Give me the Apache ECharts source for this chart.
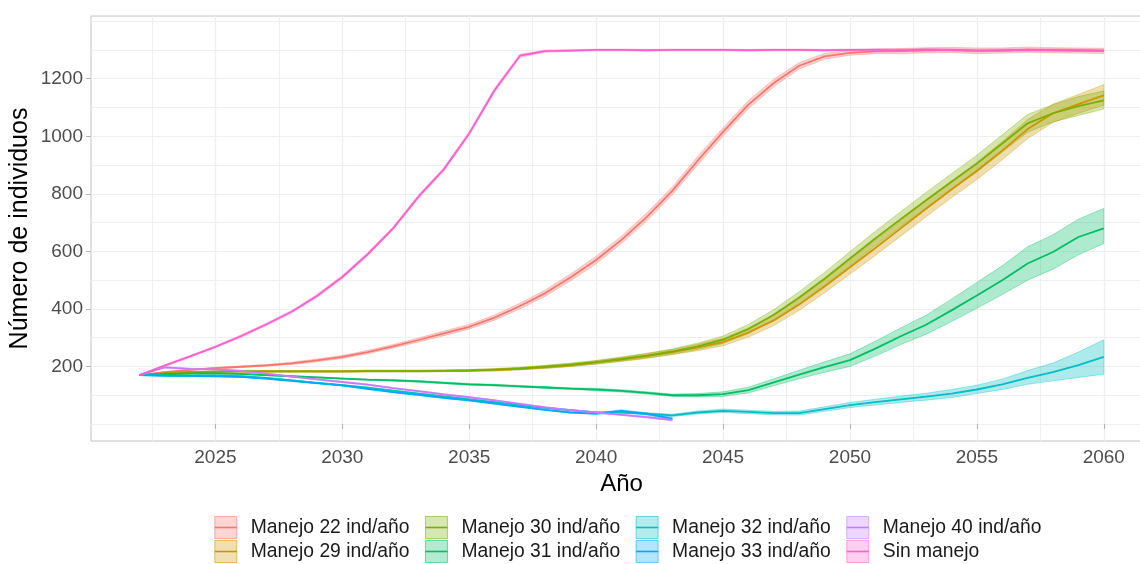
<!DOCTYPE html>
<html>
<head>
<meta charset="utf-8">
<script src="https://cdn.jsdelivr.net/npm/echarts@6/dist/echarts.min.js"></script>
<style>
  html, body { margin: 0; padding: 0; background: #fff; }
  #chart { width: 1140px; height: 564px; }
</style>
</head>
<body>
<div id="chart"></div>
<script>
// años simulados
const years = [2022, 2023, 2024, 2025, 2026, 2027, 2028, 2029, 2030, 2031, 2032, 2033, 2034,
  2035, 2036, 2037, 2038, 2039, 2040, 2041, 2042, 2043, 2044, 2045, 2046, 2047, 2048, 2049,
  2050, 2051, 2052, 2053, 2054, 2055, 2056, 2057, 2058, 2059, 2060]

const xTicks = [2025, 2030, 2035, 2040, 2045, 2050, 2055, 2060]
const xMinor = [2022.5, 2025, 2027.5, 2030, 2032.5, 2035, 2037.5, 2040, 2042.5, 2045, 2047.5,
  2050, 2052.5, 2055, 2057.5, 2060]
const yTicks = [200, 400, 600, 800, 1000, 1200]
const yMinor = [0, 100, 200, 300, 400, 500, 600, 700, 800, 900, 1000, 1100, 1200, 1300, 1400]

// Manejo 22 ind/año
const m22 = [170, 180, 188, 194, 199, 204, 211, 221, 233, 250, 270, 292, 315, 338, 370, 410, 455, 510, 570, 640, 720, 810, 915, 1015, 1110, 1185, 1245, 1278, 1290, 1295, 1296, 1299, 1300, 1297, 1298, 1301, 1299, 1298, 1297]
const lo22 = [170, 178, 186, 191, 196, 201, 207, 216, 228, 244, 264, 285, 307, 330, 361, 400, 444, 498, 557, 627, 706, 796, 900, 1000, 1096, 1172, 1234, 1268, 1282, 1287, 1287, 1290, 1291, 1287, 1289, 1292, 1290, 1289, 1288]
const hi22 = [170, 182, 190, 197, 202, 207, 215, 226, 238, 256, 276, 299, 323, 346, 379, 420, 466, 522, 583, 653, 734, 824, 930, 1030, 1124, 1198, 1256, 1288, 1298, 1303, 1305, 1308, 1309, 1307, 1307, 1310, 1308, 1307, 1306]

// Manejo 29 ind/año
const m29 = [170, 176, 180, 182, 183, 183, 183, 183, 183, 184, 184, 184, 185, 186, 188, 192, 198, 205, 214, 224, 236, 250, 266, 285, 318, 360, 415, 478, 545, 612, 680, 748, 815, 880, 950, 1025, 1080, 1112, 1142]
const lo29 = [170, 175, 178, 180, 181, 181, 181, 181, 181, 181, 181, 181, 182, 183, 184, 188, 193, 200, 208, 217, 228, 241, 255, 272, 302, 342, 395, 456, 521, 586, 653, 720, 786, 850, 918, 992, 1048, 1080, 1108]
const hi29 = [170, 177, 182, 184, 185, 185, 185, 185, 185, 187, 187, 187, 188, 189, 192, 196, 203, 210, 220, 231, 244, 259, 277, 298, 334, 378, 435, 500, 569, 638, 707, 776, 844, 910, 982, 1058, 1112, 1145, 1180]

// Manejo 30 ind/año
const m30 = [170, 176, 180, 182, 183, 183, 183, 183, 183, 184, 184, 184, 185, 186, 189, 193, 199, 206, 215, 226, 238, 252, 270, 293, 330, 380, 440, 505, 575, 645, 712, 778, 842, 905, 975, 1045, 1080, 1105, 1125]
const lo30 = [170, 175, 178, 180, 181, 181, 181, 181, 181, 181, 181, 181, 182, 183, 185, 189, 194, 200, 209, 219, 230, 243, 259, 280, 314, 362, 420, 483, 551, 620, 686, 751, 814, 876, 945, 1014, 1050, 1072, 1095]
const hi30 = [170, 177, 182, 184, 185, 185, 185, 185, 185, 187, 187, 187, 188, 189, 193, 197, 204, 212, 221, 233, 246, 261, 281, 306, 346, 398, 460, 527, 599, 670, 738, 805, 870, 934, 1005, 1076, 1110, 1138, 1158]

// Manejo 31 ind/año
const m31 = [170, 173, 175, 176, 174, 170, 166, 162, 158, 154, 152, 148, 143, 138, 135, 131, 127, 123, 120, 115, 108, 100, 100, 104, 118, 145, 172, 198, 222, 262, 305, 345, 395, 447, 500, 558, 598, 650, 680]
const lo31 = [170, 172, 174, 174, 172, 168, 164, 160, 156, 152, 149, 145, 140, 135, 132, 128, 124, 120, 116, 111, 104, 96, 94, 96, 108, 133, 157, 180, 200, 236, 276, 312, 356, 402, 450, 500, 538, 588, 627]
const hi31 = [170, 174, 176, 178, 176, 172, 168, 164, 160, 156, 155, 151, 146, 141, 138, 134, 130, 126, 124, 119, 112, 104, 106, 112, 128, 157, 187, 216, 244, 288, 334, 378, 434, 492, 550, 616, 658, 712, 749]

// Manejo 32 ind/año
const m32 = [170, 168, 168, 168, 166, 160, 152, 143, 135, 126, 116, 106, 96, 86, 76, 66, 56, 48, 40, 40, 36, 30, 40, 46, 42, 38, 38, 52, 66, 76, 86, 95, 106, 120, 138, 160, 180, 205, 233]
const lo32 = [170, 167, 166, 166, 164, 158, 150, 141, 133, 124, 114, 104, 94, 84, 74, 64, 54, 46, 38, 37, 33, 26, 35, 40, 36, 32, 31, 44, 57, 66, 75, 83, 92, 106, 120, 138, 150, 162, 173]
const hi32 = [170, 169, 170, 170, 168, 162, 154, 145, 137, 128, 118, 108, 98, 88, 78, 68, 58, 50, 42, 43, 39, 34, 45, 52, 48, 44, 45, 60, 75, 86, 97, 107, 120, 135, 156, 186, 212, 250, 293]

// Manejo 33 ind/año (se extingue en 2043)
const m33 = [170, 168, 167, 166, 164, 158, 150, 142, 134, 122, 111, 101, 91, 82, 71, 60, 49, 40, 36, 46, 35, 19]
const lo33 = [170, 167, 165, 164, 162, 156, 148, 140, 132, 120, 109, 99, 89, 80, 69, 58, 47, 38, 33, 42, 31, 15]
const hi33 = [170, 169, 169, 168, 166, 160, 152, 144, 136, 124, 113, 103, 93, 84, 73, 62, 51, 42, 39, 50, 39, 23]

// Manejo 40 ind/año (se extingue en 2043)
const m40 = [170, 197, 192, 190, 185, 175, 165, 155, 146, 137, 125, 114, 103, 93, 82, 70, 58, 48, 40, 32, 24, 14]
const lo40 = [170, 195, 190, 188, 183, 173, 163, 153, 144, 135, 123, 112, 101, 91, 80, 68, 56, 46, 38, 30, 21, 11]
const hi40 = [170, 199, 194, 192, 187, 177, 167, 157, 148, 139, 127, 116, 105, 95, 84, 72, 60, 50, 42, 34, 27, 17]

// Sin manejo
const mSin = [170, 203, 235, 268, 305, 346, 390, 445, 511, 590, 680, 790, 885, 1010, 1160, 1280, 1296, 1298, 1300, 1300, 1299, 1300, 1300, 1300, 1299, 1300, 1300, 1299, 1300, 1300, 1299, 1301, 1300, 1298, 1299, 1300, 1300, 1299, 1298]
const loSin = [170, 200, 232, 265, 301, 342, 386, 440, 506, 585, 675, 784, 879, 1004, 1153, 1275, 1292, 1295, 1297, 1297, 1296, 1297, 1297, 1297, 1296, 1297, 1297, 1296, 1297, 1296, 1295, 1297, 1296, 1294, 1295, 1296, 1296, 1295, 1294]
const hiSin = [170, 206, 238, 271, 309, 350, 394, 450, 516, 595, 685, 796, 891, 1016, 1167, 1285, 1300, 1301, 1303, 1303, 1302, 1303, 1303, 1303, 1302, 1303, 1303, 1302, 1303, 1304, 1303, 1305, 1304, 1302, 1303, 1304, 1304, 1303, 1302]

const groups = [
  { name: 'Manejo 22 ind/año', color: '#F8766D', mean: m22, lo: lo22, hi: hi22 },
  { name: 'Manejo 29 ind/año', color: '#CD9600', mean: m29, lo: lo29, hi: hi29 },
  { name: 'Manejo 30 ind/año', color: '#7CAE00', mean: m30, lo: lo30, hi: hi30 },
  { name: 'Manejo 31 ind/año', color: '#00BE67', mean: m31, lo: lo31, hi: hi31 },
  { name: 'Manejo 32 ind/año', color: '#00BFC4', mean: m32, lo: lo32, hi: hi32 },
  { name: 'Manejo 33 ind/año', color: '#00A9FF', mean: m33, lo: lo33, hi: hi33 },
  { name: 'Manejo 40 ind/año', color: '#C77CFF', mean: m40, lo: lo40, hi: hi40 },
  { name: 'Sin manejo', color: '#FF61CC', mean: mSin, lo: loSin, hi: hiSin }
]

// la leyenda de ggplot va por columnas: dos filas
const legendRow1 = ['Manejo 22 ind/año', 'Manejo 30 ind/año', 'Manejo 32 ind/año', 'Manejo 40 ind/año']
const legendRow2 = ['Manejo 29 ind/año', 'Manejo 31 ind/año', 'Manejo 33 ind/año', 'Sin manejo']

const fontFamily = '"Liberation Sans", Arial, sans-serif'

const fade = (hex, a) => {
  const n = parseInt(hex.slice(1), 16)
  return 'rgba(' + (n >> 16) + ',' + ((n >> 8) & 255) + ',' + (n & 255) + ',' + a + ')'
}

const toPairs = (vals) => vals.map((v, i) => [years[i], v])

// líneas primero: la leyenda toma el icono de la primera serie con ese nombre
const lineSeries = groups.map(g => ({
  name: g.name,
  type: 'line',
  data: toPairs(g.mean),
  symbol: 'rect',
  showSymbol: false,
  silent: true,
  z: 3,
  lineStyle: { color: g.color, width: 1.8 },
  itemStyle: { color: g.color }
}))

// bandas (geom_ribbon) como un polígono por grupo
const ribbonSeries = groups.map(g => ({
  name: g.name,
  type: 'custom',
  silent: true,
  z: 2,
  encode: { x: 0, y: 1 },
  data: toPairs(g.mean),
  renderItem: (params, api) => {
    if (params.dataIndex !== 0) return null
    const pts = []
    g.hi.forEach((v, i) => pts.push(api.coord([years[i], v])))
    for (let i = g.lo.length - 1; i >= 0; i--) pts.push(api.coord([years[i], g.lo[i]]))
    return {
      type: 'polygon',
      shape: { points: pts },
      style: { fill: fade(g.color, 0.32), stroke: fade(g.color, 0.45), lineWidth: 0.8 }
    }
  }
}))

const colorOf = {}
groups.forEach(g => { colorOf[g.name] = g.color })

const makeLegend = (names, top) => ({
  left: 214,
  top: top,
  orient: 'horizontal',
  padding: 0,
  itemWidth: 22,
  itemHeight: 27.5,
  itemGap: 15.2,
  selectedMode: false,
  textStyle: { fontSize: 19.3, color: '#1a1a1a', fontFamily, padding: [4, 0, 0, 9] },
  data: names.map(n => ({
    name: n,
    itemStyle: { color: fade(colorOf[n], 0.3), borderColor: fade(colorOf[n], 0.55), borderWidth: 1 },
    lineStyle: { color: colorOf[n], width: 1.6, opacity: 1 }
  }))
})

const plain = (v) => String(v)

const chart = echarts.init(document.getElementById('chart'))

chart.setOption({
  animation: false,
  backgroundColor: '#fff',
  textStyle: { fontFamily },
  grid: {
    left: 91,
    top: 16,
    right: -12,
    bottom: 123,
    outerBoundsMode: 'none',
    show: true,
    backgroundColor: '#fff',
    borderColor: '#c2c2c2',
    borderWidth: 1
  },
  legend: [makeLegend(legendRow1, 516), makeLegend(legendRow2, 540)],
  xAxis: [
    {
      type: 'value',
      min: 2020.1,
      max: 2061.9,
      axisLine: { show: false },
      axisTick: { show: true, customValues: xTicks, length: 5, lineStyle: { color: '#b3b3b3' } },
      axisLabel: { customValues: xTicks, formatter: plain, margin: 7, fontSize: 19, color: '#4d4d4d', fontFamily },
      splitLine: { show: true, lineStyle: { color: '#e4e4e4', width: 1.2 } },
      name: 'Año',
      nameLocation: 'middle',
      nameGap: 31,
      nameMoveOverlap: false,
      nameTextStyle: { fontSize: 24, color: '#000', fontFamily }
    },
    {
      type: 'value',
      min: 2020.1,
      max: 2061.9,
      axisLine: { show: false },
      axisTick: { show: false, customValues: xMinor },
      axisLabel: { show: false },
      splitLine: { show: true, lineStyle: { color: '#efefef', width: 1 } }
    }
  ],
  yAxis: [
    {
      type: 'value',
      min: -59,
      max: 1418,
      axisLine: { show: false },
      axisTick: { show: true, customValues: yTicks, length: 5, lineStyle: { color: '#b3b3b3' } },
      axisLabel: { customValues: yTicks, formatter: plain, margin: 8, fontSize: 19, color: '#4d4d4d', fontFamily },
      splitLine: { show: true, lineStyle: { color: '#e4e4e4', width: 1.2 } },
      name: 'Número de individuos',
      nameLocation: 'middle',
      nameGap: 58,
      nameMoveOverlap: false,
      nameTextStyle: { fontSize: 25, color: '#000', fontFamily }
    },
    {
      type: 'value',
      min: -59,
      max: 1418,
      axisLine: { show: false },
      axisTick: { show: false, customValues: yMinor },
      axisLabel: { show: false },
      splitLine: { show: true, lineStyle: { color: '#efefef', width: 1 } }
    }
  ],
  series: lineSeries.concat(ribbonSeries)
})
</script>
</body>
</html>
